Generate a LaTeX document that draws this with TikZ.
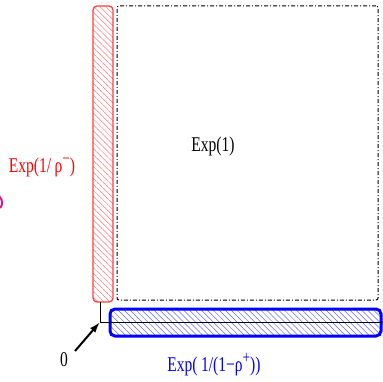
\documentclass[tikz,border=0pt]{standalone}
\usepackage{fontspec}
\setmainfont{Liberation Serif}[FakeStretch=0.74]
\usetikzlibrary{patterns.meta,arrows.meta}
\newcommand{\supr}[1]{\raisebox{0.38em}{\fontsize{18}{18}\selectfont #1}}
\begin{document}
\begin{tikzpicture}[x=1pt,y=-1pt,
  redbox/.style={draw=red!75, line width=1.3pt, rounded corners=4pt, pattern={Lines[angle=-45,distance=4.2pt,line width=0.5pt]}, pattern color=red!55, inner sep=0pt},
  bluebox/.style={draw=blue, line width=3pt, rounded corners=5pt, pattern={Lines[angle=-45,distance=4.2pt,line width=0.5pt]}, pattern color=blue!60, inner sep=0pt},
  dashbox/.style={draw=black, line width=1pt, dash pattern=on 4pt off 2pt on 1pt off 2pt, rounded corners=2pt, inner sep=0pt},
  lbl/.style={font=\fontsize{21}{24}\selectfont, inner sep=0pt}]
\useasboundingbox (0,0) rectangle (383,382);
\node[dashbox, minimum width=261pt, minimum height=294pt] (big) at (247.5,153) {};
\node[redbox, minimum width=20pt, minimum height=296pt] (red) at (103,154) {};
\node[bluebox, minimum width=271pt, minimum height=27pt] (blue) at (245.5,322.5) {};
\coordinate (o) at (100,322);
\coordinate (xend) at (383,322);
\draw[line width=0.9pt] (o |- red.south) -- (o) -- (xend);
\node[lbl] (zero) at (64,360) {0};
\draw[line width=2pt, -{Latex[length=11pt,width=7pt]}] (75,351) -- (o);
\node[lbl] (e1) at (213,146) {Exp(1)};
\node[lbl, text=red] (er) at (42,167) {Exp(1/\,ρ\supr{−})};
\node[lbl, text=blue] (eb) at (214,365) {Exp(\,1/(1−ρ\supr{+}))};
\draw[line width=2pt, magenta!80!violet] (-1,196) .. controls (3,200) and (3,205) .. (0,208);
\end{tikzpicture}
\end{document}
